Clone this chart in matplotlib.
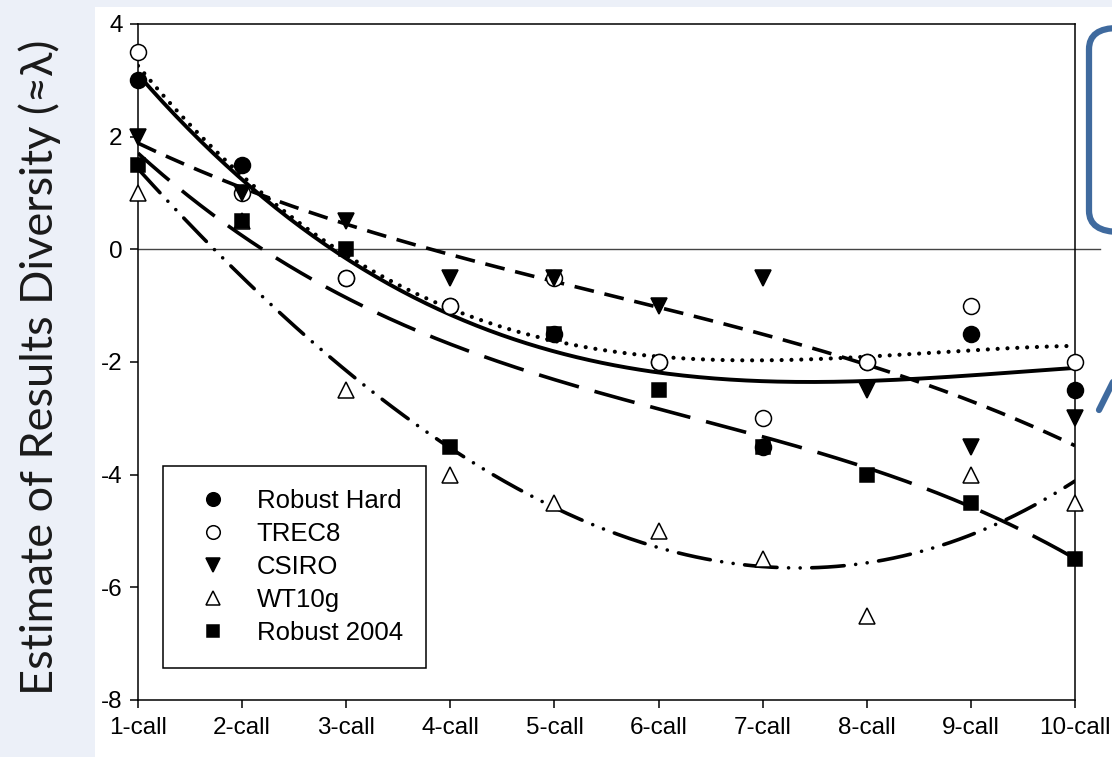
import numpy as np
import matplotlib
matplotlib.use("Agg")
import matplotlib.pyplot as plt
from matplotlib.lines import Line2D
from matplotlib.patches import FancyBboxPatch, Rectangle

# ---- data ----
calls = [1, 2, 3, 4, 5, 6, 7, 8, 9, 10]
tick_labels = ["1-call", "2-call", "3-call", "4-call", "5-call",
               "6-call", "7-call", "8-call", "9-call", "10-call"]
robust_hard = [3.0, 1.5, -0.5, -1.0, -1.5, -2.0, -3.5, -2.0, -1.5, -2.5]
trec8 = [3.5, 1.0, -0.5, -1.0, -0.5, -2.0, -3.0, -2.0, -1.0, -2.0]
csiro = [2.0, 1.0, 0.5, -0.5, -0.5, -1.0, -0.5, -2.5, -3.5, -3.0]
wt10g = [1.0, 0.5, -2.5, -4.0, -4.5, -5.0, -5.5, -6.5, -4.0, -4.5]
robust2004 = [1.5, 0.5, 0.0, -3.5, -1.5, -2.5, -3.5, -4.0, -4.5, -5.5]
series_names = ["Robust Hard", "TREC8", "CSIRO", "WT10g", "Robust 2004"]

W, H = 1112, 757
fig = plt.figure(figsize=(W / 100, H / 100), dpi=100)
fig.patch.set_facecolor("#ECF0F8")
# white slide panel
fig.patches.append(Rectangle((95 / W, 0), 1 - 95 / W, 1 - 7 / H, transform=fig.transFigure,
                             facecolor="white", edgecolor="none", zorder=-5))

ax = fig.add_axes([138 / W, 1 - 700 / H, (1075 - 138) / W, (700 - 24) / H])
ax.set_facecolor("white")

x = np.array(calls, dtype=float)
xs = np.linspace(1, 10, 300)

styles = [
    dict(marker="o", mfc="black", ms=11.5, ls="-", cap="butt", lw=2.8),
    dict(marker="o", mfc="white", ms=11.5, ls=(0, (0.01, 2.35)), cap="round", lw=3.0),
    dict(marker="v", mfc="black", ms=12, ls=(0, (5.5, 3)), cap="butt", lw=2.6),
    dict(marker="^", mfc="white", ms=11.5, ls=(0, (9, 3.2, 0.01, 3.2, 0.01, 3.2)), cap="round", lw=2.6),
    dict(marker="s", mfc="black", ms=10, ls=(0, (11.5, 4.5)), cap="butt", lw=2.6),
]
datas = [robust_hard, trec8, csiro, wt10g, robust2004]

for i, (y, st) in enumerate(zip(datas, styles)):
    coef = np.polyfit(x, np.array(y), 3)
    ax.plot(xs, np.polyval(coef, xs), color="black", lw=st["lw"], linestyle=st["ls"],
            dash_capstyle=st["cap"], solid_capstyle="butt", zorder=3)
for i, (y, st) in enumerate(zip(datas, styles)):
    ax.plot(x, y, linestyle="none", marker=st["marker"], ms=st["ms"], mfc=st["mfc"],
            mec="black", mew=1.1, zorder=4 + i, clip_on=False)

# zero reference line
ax.plot([0, 1.027], [0, 0], transform=ax.get_yaxis_transform(), color="#444444",
        lw=1.0, zorder=2, clip_on=False)

ax.set_xlim(1, 10)
ax.set_ylim(-8, 4)
ax.set_xticks(calls)
ax.set_xticklabels(tick_labels)
ax.set_yticks([-8, -6, -4, -2, 0, 2, 4])
ax.set_yticklabels(["-8", "-6", "-4", "-2", "0", "2", "4"])
for s in ax.spines.values():
    s.set_linewidth(1.1)
    s.set_color("black")
ax.tick_params(axis="both", direction="out", length=6, width=1.1, colors="black",
               labelsize=17.5, labelfontfamily="Liberation Sans")
ax.tick_params(axis="x", pad=6)
ax.tick_params(axis="y", pad=5)

handles = [Line2D([], [], linestyle="none", marker=st["marker"], ms=st["ms"] * 0.85,
                  mfc=st["mfc"], mec="black", mew=1.1) for st in styles]
leg = ax.legend(handles, series_names, loc="lower left",
                bbox_to_anchor=((163 - 138) / 937, (700 - 668) / 676),
                borderaxespad=0, frameon=True, fancybox=False, framealpha=1,
                edgecolor="black", prop={"family": "Liberation Sans", "size": 18.5},
                handlelength=2.1, handletextpad=0.65, borderpad=0.9, labelspacing=0.35)
leg.get_frame().set_linewidth(1.1)

fig.text(40 / W, 1 - 367 / H, "Estimate of Results Diversity (\u2248\u03bb)", rotation=90,
         ha="center", va="center", fontsize=32.5, family=["Lato", "DejaVu Sans"], color="#1a1a1a")

# blue call-out fragments at the right edge
fig.patches.append(FancyBboxPatch((1089 / W, 1 - 232 / H), 60 / W, (232 - 28) / H,
                                  boxstyle="round,pad=0,rounding_size=0.028",
                                  transform=fig.transFigure, facecolor="none",
                                  edgecolor="#3F6A9E", linewidth=4.5, zorder=5))
fig.lines.append(Line2D([1099 / W, 1114 / W], [1 - 410 / H, 1 - 380 / H], transform=fig.transFigure,
                        color="#3F6A9E", lw=4.5, solid_capstyle="round", zorder=5))

fig.savefig("out.png", dpi=100, facecolor=fig.get_facecolor())
